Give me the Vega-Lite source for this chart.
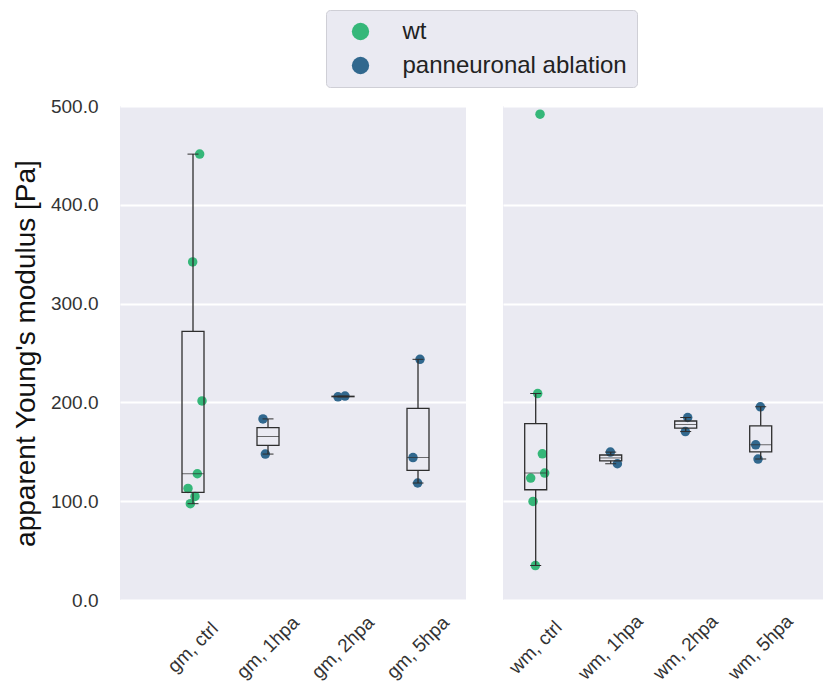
{
  "$schema": "https://vega.github.io/schema/vega-lite/v6.json",
  "background": "#ffffff",
  "padding": {"left": 12, "top": 9, "right": 0, "bottom": 0},
  "datasets": {
    "gm": [
      {"sample": "gm, ctrl", "group": "wt", "rep": 1, "modulus": 112.9},
      {"sample": "gm, ctrl", "group": "wt", "rep": 2, "modulus": 97.5},
      {"sample": "gm, ctrl", "group": "wt", "rep": 3, "modulus": 342.2},
      {"sample": "gm, ctrl", "group": "wt", "rep": 4, "modulus": 104.8},
      {"sample": "gm, ctrl", "group": "wt", "rep": 5, "modulus": 127.8},
      {"sample": "gm, ctrl", "group": "wt", "rep": 6, "modulus": 451.3},
      {"sample": "gm, ctrl", "group": "wt", "rep": 7, "modulus": 201.5},
      {"sample": "gm, 1hpa", "group": "panneuronal ablation", "rep": 1, "modulus": 183.3},
      {"sample": "gm, 1hpa", "group": "panneuronal ablation", "rep": 2, "modulus": 147.7},
      {"sample": "gm, 2hpa", "group": "panneuronal ablation", "rep": 1, "modulus": 205.6},
      {"sample": "gm, 2hpa", "group": "panneuronal ablation", "rep": 4, "modulus": 206.4},
      {"sample": "gm, 5hpa", "group": "panneuronal ablation", "rep": 1, "modulus": 144.2},
      {"sample": "gm, 5hpa", "group": "panneuronal ablation", "rep": 3, "modulus": 118.4},
      {"sample": "gm, 5hpa", "group": "panneuronal ablation", "rep": 4, "modulus": 243.6}
    ],
    "wm": [
      {"sample": "wm, ctrl", "group": "wt", "rep": 1, "modulus": 123.4},
      {"sample": "wm, ctrl", "group": "wt", "rep": 2, "modulus": 99.8},
      {"sample": "wm, ctrl", "group": "wt", "rep": 3, "modulus": 34.8},
      {"sample": "wm, ctrl", "group": "wt", "rep": 4, "modulus": 208.9},
      {"sample": "wm, ctrl", "group": "wt", "rep": 5, "modulus": 491.7},
      {"sample": "wm, ctrl", "group": "wt", "rep": 6, "modulus": 148.0},
      {"sample": "wm, ctrl", "group": "wt", "rep": 7, "modulus": 128.5},
      {"sample": "wm, 1hpa", "group": "panneuronal ablation", "rep": 3, "modulus": 149.7},
      {"sample": "wm, 1hpa", "group": "panneuronal ablation", "rep": 6, "modulus": 137.9},
      {"sample": "wm, 2hpa", "group": "panneuronal ablation", "rep": 3, "modulus": 170.5},
      {"sample": "wm, 2hpa", "group": "panneuronal ablation", "rep": 4, "modulus": 184.7},
      {"sample": "wm, 5hpa", "group": "panneuronal ablation", "rep": 1, "modulus": 157.1},
      {"sample": "wm, 5hpa", "group": "panneuronal ablation", "rep": 2, "modulus": 142.6},
      {"sample": "wm, 5hpa", "group": "panneuronal ablation", "rep": 3, "modulus": 195.5}
    ]
  },
  "hconcat": [
    {
      "width": 346,
      "height": 494,
      "data": {"name": "gm"},
      "encoding": {
        "x": {
          "field": "sample",
          "type": "nominal",
          "sort": ["gm, ctrl", "gm, 1hpa", "gm, 2hpa", "gm, 5hpa"],
          "scale": {"paddingInner": 0.5, "paddingOuter": 0.5567, "align": 0.6497},
          "axis": {"title": null, "labelAngle": -45, "labelAlign": "center", "labelBaseline": "middle", "labelPadding": 47, "labelFontSize": 19, "grid": false, "labelOverlap": false, "labelBound": false, "labelFlush": false}
        },
        "y": {
          "field": "modulus",
          "type": "quantitative",
          "scale": {"domain": [0, 500], "nice": false, "zero": true},
          "axis": {"title": "apparent Young's modulus [Pa]", "titleFontSize": 28, "titleColor": "#111111", "titlePadding": 10, "format": ".1f", "values": [0, 100, 200, 300, 400, 500], "labelFontSize": 19, "labelPadding": 22, "grid": true}
        }
      },
      "layer": [
        {
          "mark": {"type": "circle", "size": 90, "opacity": 1},
          "encoding": {
            "xOffset": {"field": "rep", "type": "ordinal", "scale": {"domain": [1, 2, 3, 4, 5, 6, 7], "range": [13.75, 27.75], "paddingInner": 0, "paddingOuter": 0}},
            "color": {
              "field": "group",
              "type": "nominal",
              "scale": {"domain": ["wt", "panneuronal ablation"], "range": ["#35b779", "#31688e"]},
              "legend": {"orient": "none", "legendX": 206, "legendY": -96, "title": null, "direction": "vertical", "symbolType": "circle", "symbolSize": 300, "symbolStrokeWidth": 0, "symbolOpacity": 1, "labelFontSize": 24, "labelLimit": 500, "labelColor": "#222222", "labelOffset": 30, "symbolOffset": 13, "rowPadding": 10, "padding": 9.5, "fillColor": "#eaeaf2", "strokeColor": "#cfcfd6", "cornerRadius": 4}
            }
          }
        },
        {
          "mark": {
            "type": "boxplot",
            "extent": 1.5,
            "size": 22,
            "outliers": false,
            "box": {"fill": "transparent", "stroke": "#2e2e2e", "strokeWidth": 1.3},
            "median": {"color": "#2e2e2e", "strokeWidth": 1.3},
            "rule": {"color": "#2e2e2e", "strokeWidth": 1.3},
            "ticks": {"color": "#2e2e2e", "size": 11, "strokeWidth": 1.3}
          }
        }
      ]
    },
    {
      "width": 320,
      "height": 494,
      "data": {"name": "wm"},
      "encoding": {
        "x": {
          "field": "sample",
          "type": "nominal",
          "sort": ["wm, ctrl", "wm, 1hpa", "wm, 2hpa", "wm, 5hpa"],
          "scale": {"paddingInner": 0.5, "paddingOuter": 0.3833, "align": 0.2426},
          "axis": {"title": null, "labelAngle": -45, "labelAlign": "center", "labelBaseline": "middle", "labelPadding": 47, "labelFontSize": 19, "grid": false, "labelOverlap": false, "labelBound": false, "labelFlush": false}
        },
        "y": {
          "field": "modulus",
          "type": "quantitative",
          "scale": {"domain": [0, 500], "nice": false, "zero": true},
          "axis": {"title": null, "labels": false, "values": [0, 100, 200, 300, 400, 500], "grid": true}
        }
      },
      "layer": [
        {
          "mark": {"type": "circle", "size": 90, "opacity": 1},
          "encoding": {
            "xOffset": {"field": "rep", "type": "ordinal", "scale": {"domain": [1, 2, 3, 4, 5, 6, 7], "range": [13.75, 27.75], "paddingInner": 0, "paddingOuter": 0}},
            "color": {
              "field": "group",
              "type": "nominal",
              "scale": {"domain": ["wt", "panneuronal ablation"], "range": ["#35b779", "#31688e"]},
              "legend": {"orient": "none", "legendX": 206, "legendY": -96, "title": null, "direction": "vertical", "symbolType": "circle", "symbolSize": 300, "symbolStrokeWidth": 0, "symbolOpacity": 1, "labelFontSize": 24, "labelLimit": 500, "labelColor": "#222222", "labelOffset": 30, "symbolOffset": 13, "rowPadding": 10, "padding": 9.5, "fillColor": "#eaeaf2", "strokeColor": "#cfcfd6", "cornerRadius": 4}
            }
          }
        },
        {
          "mark": {
            "type": "boxplot",
            "extent": 1.5,
            "size": 22,
            "outliers": false,
            "box": {"fill": "transparent", "stroke": "#2e2e2e", "strokeWidth": 1.3},
            "median": {"color": "#2e2e2e", "strokeWidth": 1.3},
            "rule": {"color": "#2e2e2e", "strokeWidth": 1.3},
            "ticks": {"color": "#2e2e2e", "size": 11, "strokeWidth": 1.3}
          }
        }
      ]
    }
  ],
  "spacing": 37,
  "config": {
    "font": "Liberation Sans",
    "view": {"fill": "#eaeaf2", "stroke": null},
    "axis": {"domain": false, "ticks": false, "gridColor": "#ffffff", "gridWidth": 1.8, "labelColor": "#333333", "titleFontWeight": "normal"},
    "concat": {"spacing": 37}
  }
}
